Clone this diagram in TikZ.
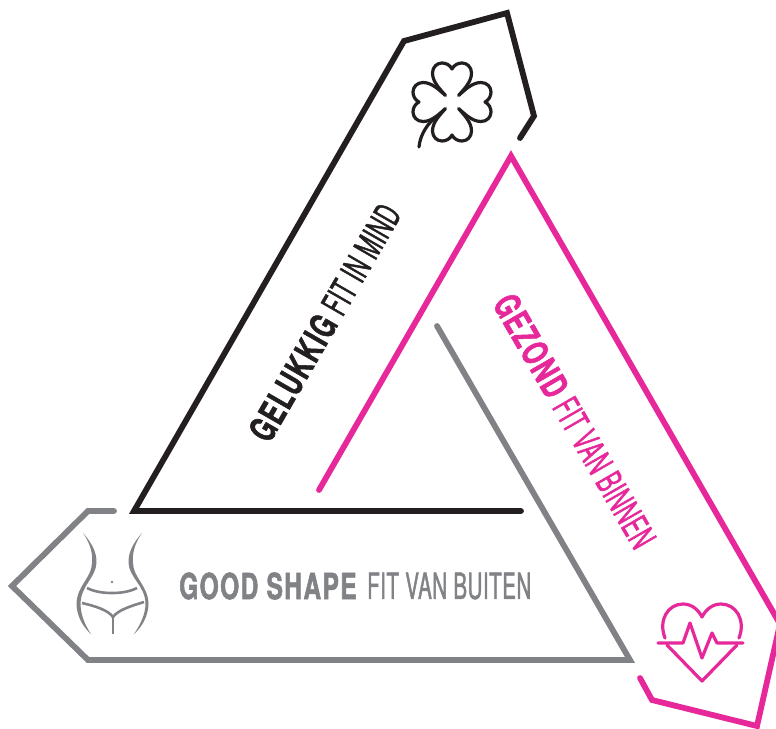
\documentclass[tikz,border=0pt]{standalone}
\usepackage{fontspec}
\usepackage{xcolor}
\setmainfont{TeX Gyre Heros}[FakeStretch=0.57, FakeBold=1.2, LetterSpace=1.5, BoldFeatures={FakeStretch=0.68, FakeBold=1.5, LetterSpace=4}]
\definecolor{fitblack}{HTML}{231F20}
\definecolor{fitpink}{HTML}{E6289A}
\definecolor{fitgray}{HTML}{808285}
\tikzset{
    frame/.style={line width=5.8pt, line join=miter, line cap=round},
    icon/.style={line width=3.2pt, line join=round, line cap=round},
    label/.style={font=\fontsize{36}{36}\selectfont, inner sep=0pt}
}

\begin{document}
\begin{tikzpicture}[x=1pt, y=-1pt]
            \useasboundingbox (0,0) rectangle (776,728);
            \clip (0,0) rectangle (776,728);
            % the three frames
            \draw[frame,fitblack] (521,511) -- (134,511) -- (404,41) -- (507,13) -- (534,116) -- (520,138);
            \draw[frame,fitpink] (319,490) -- (511,156) -- (780,624) -- (757,726) -- (652,700) -- (640,678);
            \draw[frame,fitgray] (437,326) -- (630,660) -- (88,660) -- (12,586) -- (88,511) -- (114,511);
            % clover
            \foreach \a in {0,90,180,270} {
                \begin{scope}[shift={(452,102)}, rotate=\a]
                    \draw[icon,fitblack] (-6.7,-6.7) .. controls (-12,-13) and (-19.5,-20) .. (-19.5,-29)
                        .. controls (-19.5,-35) and (-15,-39) .. (-10,-39)
                        .. controls (-6,-39) and (-2,-37) .. (0,-33)
                        .. controls (2,-37) and (6,-39) .. (10,-39)
                        .. controls (15,-39) and (19.5,-35) .. (19.5,-29)
                        .. controls (19.5,-20) and (12,-13) .. (6.7,-6.7);
                \end{scope}
            }
            \draw[icon,fitblack] (419,147) .. controls (420,135) and (428,122) .. (437,117);
            % heart
            \draw[icon,fitpink] (665,638) .. controls (658,620) and (668,604) .. (683,604)
                .. controls (691,604) and (698,609) .. (702,617)
                .. controls (706,609) and (713,604) .. (721,604)
                .. controls (736,604) and (746,620) .. (739,638);
            \draw[icon,fitpink] (658,643) -- (683,643) -- (690,623) -- (702,658) -- (712,633) -- (717,643) -- (743,643);
            \draw[icon,fitpink] (667,645) -- (702,681) -- (737,645);
            % waist
            \fill[fitgray] (83,533) .. controls (92,543) and (97,553) .. (96.5,563) .. controls (95.5,578) and (81.5,585) .. (80.5,603)
                .. controls (80.5,615) and (85,625) .. (91,634) .. controls (82,626) and (76.5,615) .. (76.5,603)
                .. controls (77.5,585) and (91.5,578) .. (92,563) .. controls (93,553) and (90,543) .. (83,533) -- cycle;
            \fill[fitgray] (142,533) .. controls (133,543) and (128,553) .. (128.5,563) .. controls (129.5,578) and (144.5,585) .. (145.5,603)
                .. controls (145.5,615) and (140,625) .. (134,634) .. controls (143,626) and (148.5,615) .. (148.5,603)
                .. controls (147.5,585) and (133.5,578) .. (133,563) .. controls (132,553) and (135,543) .. (142,533) -- cycle;
            \draw[fitgray,line width=2.6pt] (87,588) .. controls (95,592) and (104,593) .. (112,593) .. controls (120,593) and (129,592) .. (137,588);
            \draw[fitgray,line width=2.6pt] (82,603) .. controls (95,606) and (108,610) .. (113,617) .. controls (118,610) and (131,606) .. (144,602);
            \draw[fitgray,line width=2.6pt] (113,617) -- (113,634);
            \fill[fitgray] (112,582) circle (1.3);
            % labels
            \node[label,fitgray,anchor=west] (goodshape) at (179,586) {\textbf{GOOD SHAPE}};
            \node[label,fitgray,anchor=west] (fitbuiten) at (367,586) {FIT VAN BUITEN};
            \node[label,fitblack,rotate=60,anchor=west] (gelukkig) at (258,438) {\textbf{GELUKKIG} FIT IN MIND};
            \node[label,fitpink,rotate=-60,anchor=west] (gezond) at (503,297) {\textbf{GEZOND} FIT VAN BINNEN};
        \end{tikzpicture}
\end{document}
